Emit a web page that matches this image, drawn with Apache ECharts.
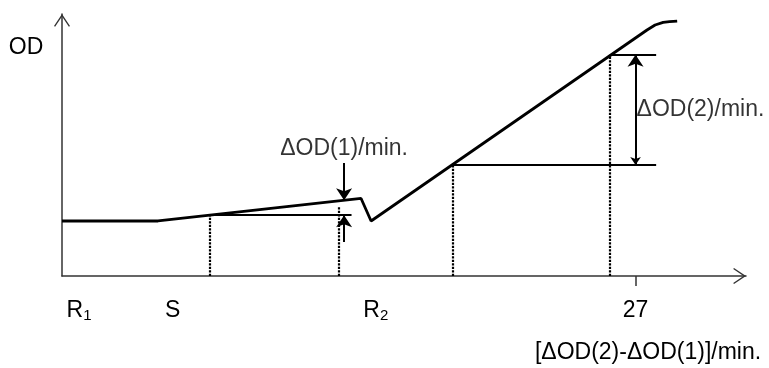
<!DOCTYPE html>
<html lang="en">
<head>
<meta charset="UTF-8">
<title>ΔOD/min</title>
<script src="https://cdn.jsdelivr.net/npm/echarts@6/dist/echarts.min.js"></script>
<style>
  html, body { margin: 0; padding: 0; background: #fff; }
  #chart { width: 769px; height: 368px; }
</style>
</head>
<body>
<div id="chart"></div>
<script>
// x: time (min), y: OD (relative, 0-100)
const curve = [[0, 21.0], [4.52, 21.0], [14.08, 29.6], [14.55, 21.0], [27.54, 93.9],
               [27.92, 95.8], [28.3, 96.8], [28.6, 97.1], [28.96, 97.3]];

// horizontal reference levels
const levels = [
    [[6.9, 23.2], [13.63, 23.2]],
    [[18.41, 42.4], [27.97, 42.4]],
    [[25.80, 84.4], [27.97, 84.4]]
];

// dotted drops to the time axis
const drops = [
    [[6.97, 0], [6.97, 23.2]],
    [[13.04, 0], [13.04, 26.5]],
    [[18.41, 0], [18.41, 42.4]],
    [[25.80, 0], [25.80, 84.4]]
];

// single arrows (from -> to) and the double arrow
const arrows1 = [
    [[13.28, 43.1], [13.28, 28.9]],
    [[13.28, 13.0], [13.28, 23.2]]
];
const arrows2 = [
    [[27, 42.4], [27, 84.4]]
];

const tickLabelPos = [0.8, 5.21, 14.77, 27];
const tickLabels = ['{r|R}{s|1}', '{r|S}', '{r|R}{s|2}', '{r|27}'];
const tickMarks = [27];

const notes = [
    {value: [13.28, 48.6], text: 'ΔOD(1)/min.', pos: 'inside'},
    {value: [27.0, 63.4], text: 'ΔOD(2)/min.', pos: 'right'}
];

const FONT = '"Liberation Sans", Arial, sans-serif';
const chevron = 'path://M0,0 L8,12 L6.9,12.8 L0,2.5 L-6.9,12.8 L-8,12 Z';

let chart = echarts.init(document.getElementById('chart'));

function segs(list) {
    return list.map(c => ({coords: c}));
}

chart.setOption({
    animation: false,
    backgroundColor: '#fff',
    grid: {left: 62, top: 14, right: 23, bottom: 92},
    xAxis: {
        type: 'value',
        min: 0,
        max: 32.2,
        splitLine: {show: false},
        axisLine: {
            lineStyle: {color: '#333', width: 1.5},
            symbol: ['none', chevron],
            symbolSize: [16, 12.8],
            symbolOffset: [0, -6.4]
        },
        axisTick: {
            show: true,
            customValues: tickMarks,
            inside: false,
            length: 10,
            lineStyle: {color: '#333', width: 1.5}
        },
        axisLabel: {
            customValues: tickLabelPos,
            margin: 23,
            color: '#000',
            fontFamily: FONT,
            formatter: v => tickLabels[tickLabelPos.indexOf(v)] || '',
            rich: {
                r: {fontSize: 23, lineHeight: 24, fontFamily: FONT, color: '#000'},
                s: {fontSize: 15, lineHeight: 16, verticalAlign: 'bottom', fontFamily: FONT, color: '#000'}
            }
        }
    },
    yAxis: {
        type: 'value',
        min: 0,
        max: 100,
        splitLine: {show: false},
        axisTick: {show: false},
        axisLabel: {show: false},
        axisLine: {
            show: true,
            lineStyle: {color: '#333', width: 1.5},
            symbol: ['none', chevron],
            symbolSize: [16, 12.8],
            symbolOffset: [0, -6.4]
        }
    },
    graphic: [
        {type: 'text', x: 26, y: 48, style: {text: 'OD', font: '23px ' + FONT, fill: '#000', align: 'center', verticalAlign: 'middle'}},
        {type: 'text', x: 648, y: 353, style: {text: '[ΔOD(2)-ΔOD(1)]/min.', font: '23px ' + FONT, fill: '#000', align: 'center', verticalAlign: 'middle'}}
    ],
    series: [
        {
            type: 'line',
            data: curve,
            showSymbol: false,
            lineStyle: {color: '#000', width: 2.8},
            z: 5
        },
        {
            type: 'lines',
            coordinateSystem: 'cartesian2d',
            data: segs(levels),
            lineStyle: {color: '#000', width: 2, opacity: 1}
        },
        {
            type: 'lines',
            coordinateSystem: 'cartesian2d',
            data: segs(drops),
            lineStyle: {color: '#000', width: 2.2, type: [2.2, 1.3], opacity: 1}
        },
        {
            type: 'lines',
            coordinateSystem: 'cartesian2d',
            data: segs(arrows1),
            symbol: ['none', 'arrow'],
            symbolSize: [8, 12],
            lineStyle: {color: '#000', width: 2, opacity: 1}
        },
        {
            type: 'lines',
            coordinateSystem: 'cartesian2d',
            data: segs(arrows2),
            symbol: ['arrow', 'arrow'],
            symbolSize: [8, 12],
            lineStyle: {color: '#000', width: 2, opacity: 1}
        },
        {
            type: 'scatter',
            symbolSize: 0,
            data: notes.map(n => ({
                value: n.value,
                label: {show: true, position: n.pos, distance: 1, formatter: n.text,
                        color: '#000', fontSize: 23, fontFamily: FONT}
            }))
        }
    ]
});
</script>
</body>
</html>
